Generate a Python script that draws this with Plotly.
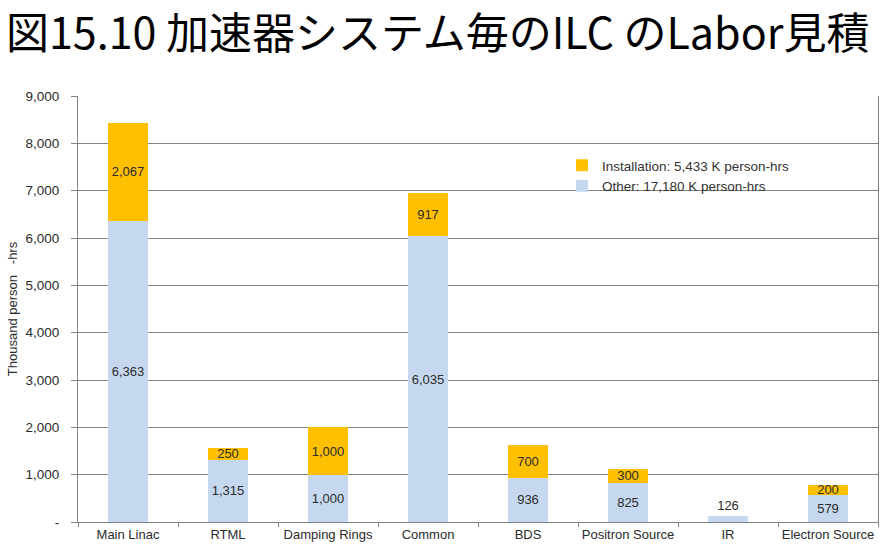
import plotly.graph_objects as go

categories = ["Main Linac", "RTML", "Damping Rings", "Common", "BDS",
              "Positron Source", "IR", "Electron Source"]
other = [6363, 1315, 1000, 6035, 936, 825, 126, 579]
installation = [2067, 250, 1000, 917, 700, 300, None, 200]
y_tickvals = [0, 1000, 2000, 3000, 4000, 5000, 6000, 7000, 8000, 9000]
y_ticktext = ["-", "1,000", "2,000", "3,000", "4,000", "5,000", "6,000",
              "7,000", "8,000", "9,000"]
name_other = "Other: 17,180 K person-hrs"
name_install = "Installation: 5,433 K person-hrs"
title_text = "図15.10 加速器システム毎のILC のLabor見積"

W, H = 891, 547
ML, MR, MT, MB = 78, 13, 96, 25
pw, ph = W - ML - MR, H - MT - MB

FONT = "Liberation Sans, Arial"
lbl_font = dict(family=FONT, size=13, color="#2b2b2b")

other_pos = ["outside" if (inst is None) else "inside"
             for inst in installation]

fig = go.Figure()
fig.add_trace(go.Bar(
    x=categories, y=other, name=name_other,
    marker=dict(color="#C6D8EF", line=dict(width=0)),
    texttemplate="%{y:,.0f}", textposition=other_pos,
    insidetextanchor="middle", constraintext="none", cliponaxis=False,
    textfont=lbl_font, insidetextfont=lbl_font, outsidetextfont=lbl_font,
    textangle=0,
))
fig.add_trace(go.Bar(
    x=categories, y=installation, name=name_install,
    marker=dict(color="#FFC000", line=dict(width=0)),
    texttemplate="%{y:,.0f}", textposition="inside",
    insidetextanchor="middle", constraintext="none",
    textfont=lbl_font, insidetextfont=lbl_font,
    textangle=0,
))

fig.update_layout(
    width=W, height=H,
    margin=dict(l=ML, r=MR, t=MT, b=MB, pad=0, autoexpand=False),
    paper_bgcolor="white", plot_bgcolor="white",
    barmode="stack", bargap=0.6,
    showlegend=True,
    legend=dict(
        x=(562 - ML) / pw, y=(H - MB - 150) / ph,
        xanchor="left", yanchor="top",
        traceorder="reversed",
        bgcolor="rgba(0,0,0,0)",
        font=dict(family=FONT, size=13.5, color="#333333"),
        itemwidth=30, tracegroupgap=4,
    ),
    font=dict(family=FONT, size=13, color="#333333"),
    xaxis=dict(
        type="category",
        automargin=False,
        showgrid=False,
        showline=True, linecolor="#828282", linewidth=1,
        ticks="outside", tickson="boundaries", ticklen=4, tickcolor="#828282",
        ticklabelstandoff=0, tickangle=0,
        tickfont=dict(family=FONT, size=13, color="#2b2b2b"),
        range=[-0.5, 7.5],
    ),
    yaxis=dict(
        range=[0, 9000],
        automargin=False,
        tickvals=y_tickvals, ticktext=y_ticktext,
        showgrid=True, gridcolor="#828282", gridwidth=1,
        showline=True, linecolor="#828282", linewidth=1, mirror=True,
        ticks="outside", ticklen=6, tickcolor="#828282",
        ticklabelstandoff=9,
        tickfont=dict(family=FONT, size=13.5, color="#2b2b2b"),
        zeroline=False,
        title=dict(text="Thousand person\u00a0\u00a0\u00a0-hrs",
                   font=dict(family=FONT, size=13, color="#2b2b2b"),
                   standoff=4),
    ),
    annotations=[dict(
        text=title_text,
        xref="paper", yref="paper",
        x=(4 - ML) / pw, y=(H - MB - 30) / ph,
        xanchor="left", yanchor="middle",
        showarrow=False,
        font=dict(family="Noto Sans CJK JP", size=43, color="black"),
    )],
)

fig.write_html("out.html")
